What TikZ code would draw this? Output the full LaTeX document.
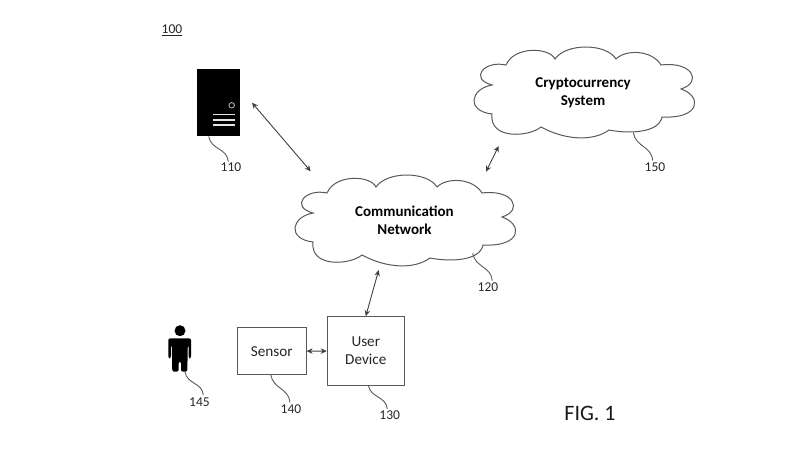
\documentclass[tikz,border=0pt]{standalone}
\usepackage{fontspec}
\usetikzlibrary{arrows.meta}
\setmainfont{Carlito}
\definecolor{linegray}{HTML}{595959}
\tikzstyle{boxnode}=[draw=linegray,line width=1.1pt,inner sep=0pt,align=center,text=black!85,font=\fontsize{15.2}{18}\selectfont]
\tikzstyle{cloudtext}=[inner sep=0pt,align=center,text=black,font=\fontsize{15}{18}\selectfont\bfseries]
\tikzstyle{reflabel}=[inner sep=0pt,text=black!85,font=\fontsize{13.5}{15}\selectfont]
\tikzstyle{cloudline}=[draw=linegray,line width=1pt,fill=white]
\tikzstyle{leadline}=[draw=linegray,line width=0.9pt]
\tikzstyle{arrowline}=[{Stealth[length=6pt,width=5.5pt]}-{Stealth[length=6pt,width=5.5pt]},draw=black!75,line width=0.9pt]
% one cloud outline, centred on a node
\newcommand{\cloudoutline}[1]{
    \draw[cloudline,shift={(#1)}] (-92,-8)
        .. controls (-115,-14) and (-100,-33) .. (-78,-28)
        .. controls (-70,-47) and (-35,-46) .. (-29,-34)
        .. controls (-18,-50) and (22,-50) .. (32,-34)
        .. controls (42,-44) and (68,-43) .. (77,-28)
        .. controls (108,-32) and (119,-11) .. (97,-4)
        .. controls (118,3) and (117,26) .. (78,24)
        .. controls (75,40) and (45,41) .. (25,37)
        .. controls (10,48) and (-17,48) .. (-43,34)
        .. controls (-55,44) and (-95,47) .. (-92,21)
        .. controls (-118,18) and (-114,-4) .. cycle;
}
\begin{document}
\begin{tikzpicture}[x=1pt,y=-1pt]
    \useasboundingbox (0,0) rectangle (800,450);

    % clouds
    \cloudoutline{405,221}
    \cloudoutline{584,93}
    \node[cloudtext] (network) at (404.5,220.5) {Communication\\Network};
    \node[cloudtext] (crypto) at (583,92.5) {Cryptocurrency\\System};

    % server
    \node[fill=black,minimum width=43pt,minimum height=67pt,inner sep=0pt] (server) at (218.5,102.5) {};
    \node[circle,draw=black!25,line width=0.8pt,minimum size=5.5pt,inner sep=0pt] (led) at (231.7,105.3) {};
    \foreach \y in {114.3,119.7,125}
    \draw[black!10,line width=1.6pt] (213.3,\y) -- (234.7,\y);

    % person
    \fill[black] (180,330.7) circle (5.5);
    \fill[black,rounded corners=2pt] (168.3,358.3) -- (168.3,338.3) -- (191,338.3) -- (191,358.3) -- (188.6,358.3) -- (188.6,345) -- (187.8,345)
        -- (187.3,371.7) -- (181,371.7) -- (181,361.7) -- (178.6,361.7) -- (178.6,371.7) -- (172.3,371.7) -- (171.8,345) -- (170.9,345) -- (170.9,358.3) -- cycle;

    % boxes
    \node[boxnode,minimum width=68.7pt,minimum height=47pt] (sensor) at (271.7,351.2) {Sensor};
    \node[boxnode,minimum width=77pt,minimum height=68.6pt] (device) at (365.8,351) {User\\Device};

    % reference numbers
    \node[reflabel] (l100) at (172,30) {\underline{100}};
    \node[inner sep=0pt,text=black!90,font=\fontsize{22}{26}\selectfont] (fig) at (590,413) {FIG. 1};
    \foreach \name/\x/\y/\txt in {l110/231/167.5/110,l120/488/287/120,l130/389.7/415/130,l140/291/408.7/140,l145/199.5/402.5/145,l150/655/167/150}
    \node[reflabel] (\name) at (\x,\y) {\txt};

    % free ends
    \coordinate (s110) at (208.7,136.5);
    \coordinate (e110) at (228.3,161.5);
    \coordinate (s120) at (472.7,253.3);
    \coordinate (e120) at (492.3,280.7);
    \coordinate (s130) at (368.3,385.3);
    \coordinate (e130) at (387.3,409);
    \coordinate (s140) at (270.7,374.7);
    \coordinate (e140) at (290,402.5);
    \coordinate (s145) at (185,372);
    \coordinate (e145) at (203.3,395);
    \coordinate (s150) at (633.3,132.7);
    \coordinate (e150) at (652.7,160.5);

    \foreach \from/\to in {s110/e110,s120/e120,s130/e130,s140/e140,s145/e145,s150/e150}
    \draw[leadline] (\from) to[out=-80,in=95,looseness=1.1] (\to);

    \coordinate (a1) at (252,102.7);
    \coordinate (a2) at (310.7,171.3);
    \coordinate (b1) at (498.7,146);
    \coordinate (b2) at (486,171.7);
    \coordinate (c1) at (378.7,270);

    \draw[arrowline] (a1) -- (a2);
    \draw[arrowline] (b1) -- (b2);
    \draw[arrowline] (device.north) -- (c1);
    \draw[arrowline] (sensor) -- (device);
\end{tikzpicture}
\end{document}
